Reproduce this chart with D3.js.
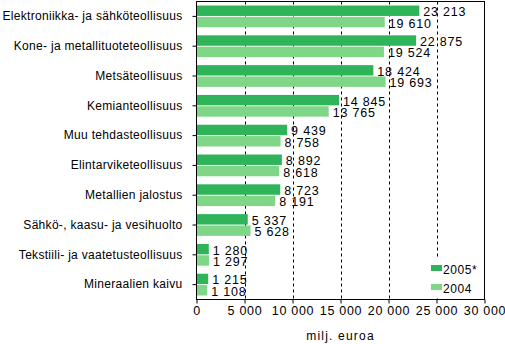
<!DOCTYPE html>
<html><head><meta charset="utf-8">
<script src="https://cdn.jsdelivr.net/npm/d3@7/dist/d3.min.js"></script>
<style>body{margin:0;background:#fff}svg{display:block}text{font-family:"Liberation Sans",Arial,sans-serif;fill:#000}</style>
</head><body><svg id="c" width="505" height="344"></svg>
<script>
const categories = ["Elektroniikka- ja sähköteollisuus","Kone- ja metallituoteteollisuus","Metsäteollisuus","Kemianteollisuus","Muu tehdasteollisuus","Elintarviketeollisuus","Metallien jalostus","Sähkö-, kaasu- ja vesihuolto","Tekstiili- ja vaatetusteollisuus","Mineraalien kaivu"];
const seriesNames = ["2005*","2004"];
const values2005 = [23213,22875,18424,14845,9439,8892,8723,5337,1280,1215];
const values2004 = [19610,19524,19693,13765,8758,8618,8191,5628,1297,1108];
const xTicks = [0,5000,10000,15000,20000,25000,30000];
const colors = ["#2fb45a","#7fd687"];
const axisTitle = "milj. euroa";

const svg = d3.select("#c");
const L=196.5, R=484.5, T=1.5, B=299.5;
const x = d3.scaleLinear().domain([0,30000]).range([L,R]);
const y = d3.scaleBand().domain(categories).range([T,B]).paddingInner(0.27).paddingOuter(0.135);
const ys = d3.scaleBand().domain(seriesNames).range([0,y.bandwidth()]).paddingInner(0.08);
const fmt = v => d3.format(",")(v).replace(/,/g," ");
const series = [values2005, values2004];

// gridlines
svg.append("g").selectAll("line").data(xTicks.slice(1,-1)).join("line")
  .attr("x1",d=>Math.round(x(d))+0.5).attr("x2",d=>Math.round(x(d))+0.5)
  .attr("y1",T).attr("y2",B).attr("stroke","#000").attr("stroke-dasharray","3,3");

// bars
series.forEach((vals,si)=>{
  svg.append("g").selectAll("rect").data(vals).join("rect")
    .attr("x",x(0)).attr("y",(d,i)=>y(categories[i])+ys(seriesNames[si]))
    .attr("width",d=>x(d)-x(0)).attr("height",ys.bandwidth())
    .attr("fill",colors[si]);
});

// legend background
const lg = svg.append("g");
lg.append("rect").attr("x",428).attr("y",258).attr("width",55).attr("height",40).attr("fill","#fff");
seriesNames.forEach((s,i)=>{
  lg.append("rect").attr("x",431).attr("y",265+i*19).attr("width",11).attr("height",6).attr("fill",colors[i]);
  lg.append("text").attr("x",443).attr("y",274+i*18.5).attr("font-size",12).attr("letter-spacing",0.6).text(s);
});

// value labels
series.forEach((vals,si)=>{
  svg.append("g").selectAll("text").data(vals).join("text")
    .attr("x",d=>x(d)+4).attr("y",(d,i)=>y(categories[i])+ys(seriesNames[si])+ys.bandwidth()/2+1)
    .attr("dy","0.36em").attr("font-size",12.5).attr("letter-spacing",0.8).text(d=>fmt(d));
});

// frame
svg.append("rect").attr("x",L).attr("y",T).attr("width",R-L).attr("height",B-T).attr("fill","none").attr("stroke","#000");

// x axis
const xa = svg.append("g").attr("transform",`translate(0,${B})`)
  .call(d3.axisBottom(x).tickValues(xTicks).tickFormat(fmt).tickSize(4).tickPadding(3));
xa.select(".domain").remove();
xa.selectAll("line").attr("stroke","#000");
xa.selectAll("text").attr("font-size",12.5).attr("letter-spacing",0.7).attr("font-family","Liberation Sans, Arial, sans-serif");

// y axis
const ya = svg.append("g").attr("transform",`translate(${L},0)`)
  .call(d3.axisLeft(y).tickSize(4).tickPadding(10));
ya.select(".domain").remove();
ya.selectAll("line").attr("stroke","#000");
ya.selectAll("text").attr("font-size",12).attr("letter-spacing",0.3).attr("font-family","Liberation Sans, Arial, sans-serif");

svg.append("text").attr("x",(L+R)/2).attr("y",340).attr("text-anchor","middle").attr("font-size",12).attr("letter-spacing",1.2).text(axisTitle);
</script></body></html>
